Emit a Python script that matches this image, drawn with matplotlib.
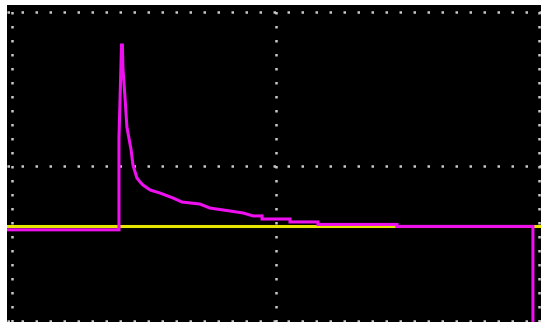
import numpy as np
import matplotlib
matplotlib.use("Agg")
import matplotlib.pyplot as plt

# trace values, in screen divisions
ch1_x = [-0.02, 0.406, 0.406, 0.4156, 0.419, 0.421, 0.429, 0.436, 0.452, 0.459,
         0.474, 0.486, 0.497, 0.524, 0.562, 0.611, 0.645, 0.713, 0.751, 0.827,
         0.877, 0.915, 0.949, 0.949, 1.055, 1.055, 1.161, 1.161, 1.461, 1.461,
         1.977, 1.977]
ch1_y = [0.59, 0.59, 1.184, 1.786, 1.786, 1.638, 1.443, 1.256, 1.107, 1.010,
         0.926, 0.900, 0.880, 0.848, 0.828, 0.796, 0.770, 0.757, 0.731, 0.712,
         0.699, 0.680, 0.680, 0.660, 0.660, 0.641, 0.641, 0.625, 0.625, 0.612,
         0.612, -0.2]
ch2_x = [-0.02, 2.02]
ch2_y = [0.614, 0.614]

grid_pos = [0, 1, 2]

fig = plt.figure(figsize=(5.41, 3.22), dpi=100, facecolor='white')
ax = fig.add_axes([7/541, 0, 534/541, 317/322])
ax.set_facecolor('black')
ax.set_xlim(-0.019, 2.0076)
ax.set_ylim(-0.0065, 2.045)
ax.set_xticks([])
ax.set_yticks([])
for s in ax.spines.values():
    s.set_visible(False)

dots = dict(color='#c8c8c8', lw=1.8, linestyle=(0, (1, 4.6)),
            dash_capstyle='butt', clip_on=False, zorder=1)
for g in grid_pos:
    ax.axhline(g, **dots)
    ax.axvline(g, **dots)

ax.plot(ch2_x, ch2_y, color='#e6e600', lw=2.2, zorder=2)
ax.plot(ch1_x, ch1_y, color='#ee10ee', lw=2.2, zorder=3,
        solid_joinstyle='miter')

fig.savefig('out.png', dpi=100, facecolor='white')
